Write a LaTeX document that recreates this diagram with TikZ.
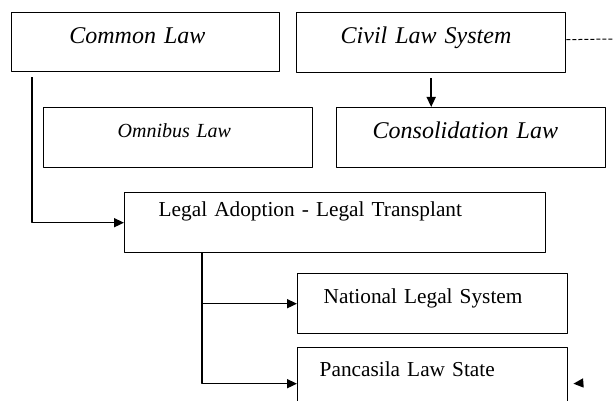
\documentclass[tikz,border=0pt]{standalone}
\usepackage{fontspec}
\setmainfont{Liberation Serif}
\usetikzlibrary{arrows.meta}
\begin{document}
\begin{tikzpicture}[x=1pt, y=-1pt, line join=round, >={Triangle[length=10pt,width=9pt]},
  lawbox/.style n args={3}{draw, line width=1.4pt, inner sep=0pt, anchor=north west,
    align=left, text width=#1, text height=#2, text depth=#3},
  bigit/.style={font=\fontsize{24}{28}\selectfont\itshape},
  smallit/.style={font=\fontsize{20}{24}\selectfont\itshape},
  uptext/.style={font=\fontsize{21.3}{25}\selectfont},
  link/.style={line width=1.5pt, ->},
  dashlink/.style={line width=1pt, dash pattern=on 4pt off 2pt}]
  \useasboundingbox (0,0) rectangle (613,401);
  \clip (0,0) rectangle (613,401);
  % boxes
  \node[lawbox={268pt}{31pt}{28pt}, bigit] (common) at (10.7,12) {\hspace*{58pt}Common Law};
  \node[lawbox={269pt}{31pt}{29pt}, bigit] (civil) at (296,12) {\hspace*{44pt}Civil Law System};
  \node[lawbox={269pt}{30pt}{30pt}, smallit] (omnibus) at (43,107) {\hspace*{74pt}Omnibus Law};
  \node[lawbox={269pt}{31pt}{29pt}, bigit] (consol) at (336,107) {\hspace*{36pt}Consolidation Law};
  \node[lawbox={421pt}{24pt}{36pt}, uptext] (legal) at (124,192) {\hspace*{34pt}Legal Adoption - Legal Transplant};
  \node[lawbox={270pt}{30pt}{30pt}, uptext] (national) at (297,273) {\hspace*{26pt}National Legal System};
  \node[lawbox={270pt}{29pt}{31pt}, uptext] (pancasila) at (297,347) {\hspace*{22pt}Pancasila Law State};
  % free ends
  \coordinate (dashend) at (613,39);
  \coordinate (pstub) at (583,383);
  % connectors
  \draw[dashlink] ([yshift=3pt]civil.east) -- (dashend);
  \draw[link] ([yshift=-5pt]civil.south) -- (civil.south |- consol.north);
  \draw[link] ([xshift=21.3pt,yshift=-5pt]common.south west) |- (legal.west);
  \draw[link] ([xshift=78pt]legal.south west) |- (national.west);
  \draw[link] ([xshift=78pt]legal.south west) |- ([yshift=-6pt]pancasila.west);
  \draw[link] (pstub) -- ([xshift=5pt,yshift=-6pt]pancasila.east);
\end{tikzpicture}
\end{document}
